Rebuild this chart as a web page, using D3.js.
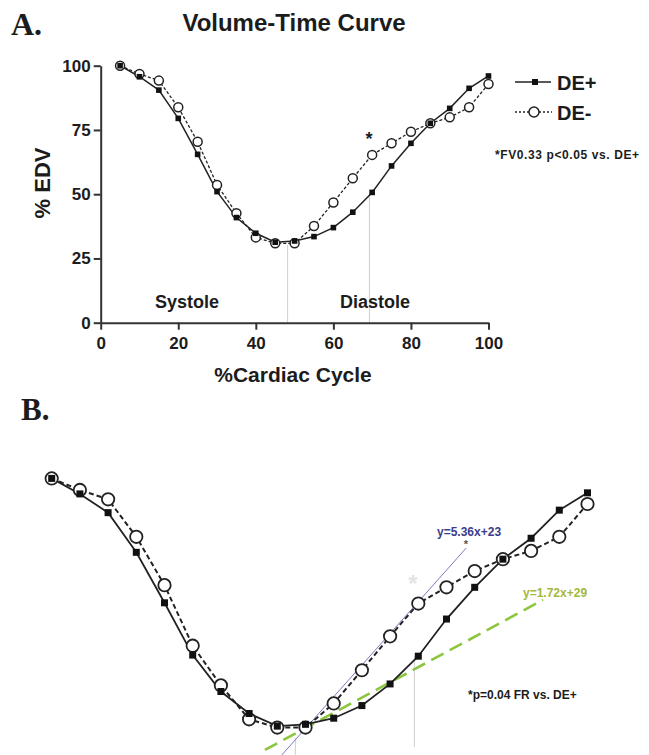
<!DOCTYPE html>
<html>
<head>
<meta charset="utf-8">
<script src="https://cdn.jsdelivr.net/npm/d3@7"></script>
<style>
  body { margin: 0; background: #fff; }
  svg text { font-family: "Liberation Sans", Arial, sans-serif; font-weight: bold; fill: #1c1c1c; }
  .axis path, .axis line { stroke: #333; stroke-width: 2; }
  .axis text { font-size: 17px; }
  .phase { stroke: #cfcfcf; stroke-width: 1; }
</style>
</head>
<body>
<script>
// % cardiac cycle (x) and % EDV for both groups
var cycle = [5, 10, 15, 20, 25, 30, 35, 40, 45, 50, 55, 60, 65, 70, 75, 80, 85, 90, 95, 100];
var dePlus = [100, 95.7, 90.5, 79.5, 65.5, 51.0, 40.9, 34.8, 31.3, 31.8, 33.5, 37.0, 43.0, 50.7, 61.0, 69.8, 77.6, 83.4, 91.2, 96.0];
var deMinus = [100, 96.8, 94.2, 83.8, 70.4, 53.6, 42.6, 33.2, 30.9, 30.9, 37.6, 46.8, 56.2, 65.3, 69.8, 74.3, 77.6, 79.9, 83.8, 92.9];

var xTicks = [0, 20, 40, 60, 80, 100];
var yTicks = [0, 25, 50, 75, 100];

// end-systole / diastolic point markers (x in % cycle)
var phaseMarks = [48.2, 69.3];

// fitted slopes drawn in panel B, endpoints in data units
var fitBlue = [[45.8, 23.3], [78.5, 80.7]];
var fitGreen = [[42.8, 24.7], [92.1, 66.3]];

var w = 649, h = 755;
var svg = d3.select("body").append("svg")
    .attr("width", w)
    .attr("height", h);

// ---------------- Panel A ----------------
var xA = d3.scaleLinear().domain([0, 100]).range([100.7, 488.5]);
var yA = d3.scaleLinear().domain([0, 100]).range([322.7, 65.7]);

svg.append("text")
    .attr("x", 11).attr("y", 35)
    .style("font-family", "'Liberation Serif', 'Times New Roman', serif")
    .style("font-size", "32px")
    .text("A.");

svg.append("text")
    .attr("x", 294).attr("y", 31)
    .attr("text-anchor", "middle")
    .style("font-size", "24px")
    .text("Volume-Time Curve");

// grey phase lines
svg.append("line").attr("class", "phase")
    .attr("x1", xA(phaseMarks[0])).attr("x2", xA(phaseMarks[0]))
    .attr("y1", yA(0)).attr("y2", yA(30.2));
svg.append("line").attr("class", "phase")
    .attr("x1", xA(phaseMarks[1])).attr("x2", xA(phaseMarks[1]))
    .attr("y1", yA(0)).attr("y2", yA(dePlus[13]));

svg.append("g")
    .attr("class", "axis")
    .attr("transform", "translate(" + xA(0) + ",0)")
    .call(d3.axisLeft(yA).tickValues(yTicks).tickSize(7).tickSizeOuter(0));

svg.append("g")
    .attr("class", "axis")
    .attr("transform", "translate(0," + yA(0) + ")")
    .call(d3.axisBottom(xA).tickValues(xTicks).tickSize(7).tickSizeOuter(0).tickPadding(7));

svg.append("text")
    .attr("transform", "translate(50,183) rotate(-90)")
    .attr("text-anchor", "middle")
    .style("font-size", "22px")
    .text("% EDV");

svg.append("text")
    .attr("x", 293).attr("y", 382)
    .attr("text-anchor", "middle")
    .style("font-size", "21px")
    .text("%Cardiac Cycle");

svg.append("text")
    .attr("x", 187).attr("y", 308)
    .attr("text-anchor", "middle")
    .style("font-size", "18px")
    .text("Systole");

svg.append("text")
    .attr("x", 375).attr("y", 308)
    .attr("text-anchor", "middle")
    .style("font-size", "18px")
    .text("Diastole");

var lineA = function(vals) {
    return d3.line()
        .x(function(d, i) { return xA(cycle[i]); })
        .y(function(d) { return yA(d); })(vals);
};

svg.append("path")
    .attr("d", lineA(deMinus))
    .attr("fill", "none").attr("stroke", "#222")
    .attr("stroke-width", 1.3).attr("stroke-dasharray", "3,2");
svg.append("path")
    .attr("d", lineA(dePlus))
    .attr("fill", "none").attr("stroke", "#222")
    .attr("stroke-width", 1.5);

svg.selectAll(".circA").data(deMinus).enter().append("circle")
    .attr("cx", function(d, i) { return xA(cycle[i]); })
    .attr("cy", function(d) { return yA(d); })
    .attr("r", 4.5)
    .attr("fill", "#fff").attr("stroke", "#222").attr("stroke-width", 1.5);
svg.selectAll(".sqA").data(dePlus).enter().append("rect")
    .attr("x", function(d, i) { return xA(cycle[i]) - 2.8; })
    .attr("y", function(d) { return yA(d) - 2.8; })
    .attr("width", 5.6).attr("height", 5.6)
    .attr("fill", "#111");

svg.append("text")
    .attr("x", 369).attr("y", 145)
    .attr("text-anchor", "middle")
    .style("font-size", "18px")
    .text("*");

// legend
svg.append("line").attr("x1", 515).attr("x2", 551).attr("y1", 82).attr("y2", 82)
    .attr("stroke", "#222").attr("stroke-width", 1.5);
svg.append("rect").attr("x", 532).attr("y", 79).attr("width", 6).attr("height", 6).attr("fill", "#111");
svg.append("text").attr("x", 557).attr("y", 90).style("font-size", "20px").text("DE+");

svg.append("line").attr("x1", 515).attr("x2", 552).attr("y1", 112).attr("y2", 112)
    .attr("stroke", "#222").attr("stroke-width", 1.3).attr("stroke-dasharray", "2,2");
svg.append("circle").attr("cx", 534).attr("cy", 112).attr("r", 5)
    .attr("fill", "#fff").attr("stroke", "#222").attr("stroke-width", 1.5);
svg.append("text").attr("x", 557).attr("y", 120).style("font-size", "20px").text("DE-");

svg.append("text")
    .attr("x", 495).attr("y", 159)
    .style("font-size", "12px")
    .style("letter-spacing", "0.6px")
    .text("*FV0.33 p<0.05 vs. DE+");

// ---------------- Panel B ----------------
var xB = d3.scaleLinear().domain([0, 100]).range([23.5, 587.5]);
var yB = d3.scaleLinear().domain([0, 100]).range([839, 478.4]);

svg.append("text")
    .attr("x", 21).attr("y", 420)
    .style("font-family", "'Liberation Serif', 'Times New Roman', serif")
    .style("font-size", "31px")
    .text("B.");

svg.append("line").attr("class", "phase")
    .attr("x1", xB(phaseMarks[0])).attr("x2", xB(phaseMarks[0]))
    .attr("y1", yB(28)).attr("y2", h);
svg.append("line").attr("class", "phase")
    .attr("x1", xB(phaseMarks[1])).attr("x2", xB(phaseMarks[1]))
    .attr("y1", yB(dePlus[13])).attr("y2", yB(25.5));

var fitLine = d3.line()
    .x(function(d) { return xB(d[0]); })
    .y(function(d) { return yB(d[1]); });

svg.append("path")
    .attr("d", fitLine(fitGreen))
    .attr("fill", "none").attr("stroke", "#8cc63f")
    .attr("stroke-width", 2.6).attr("stroke-dasharray", "14,7");
svg.append("path")
    .attr("d", fitLine(fitBlue))
    .attr("fill", "none").attr("stroke", "#7a7ac0")
    .attr("stroke-width", 1);

var lineB = function(vals) {
    return d3.line()
        .x(function(d, i) { return xB(cycle[i]); })
        .y(function(d) { return yB(d); })(vals);
};

svg.append("path")
    .attr("d", lineB(deMinus))
    .attr("fill", "none").attr("stroke", "#222")
    .attr("stroke-width", 2).attr("stroke-dasharray", "5,3");
svg.append("path")
    .attr("d", lineB(dePlus))
    .attr("fill", "none").attr("stroke", "#222")
    .attr("stroke-width", 1.8);

svg.selectAll(".circB").data(deMinus).enter().append("circle")
    .attr("cx", function(d, i) { return xB(cycle[i]); })
    .attr("cy", function(d) { return yB(d); })
    .attr("r", 6.2)
    .attr("fill", "#fff").attr("stroke", "#222").attr("stroke-width", 1.8);
svg.selectAll(".sqB").data(dePlus).enter().append("rect")
    .attr("x", function(d, i) { return xB(cycle[i]) - 3.5; })
    .attr("y", function(d) { return yB(d) - 3.5; })
    .attr("width", 7).attr("height", 7)
    .attr("fill", "#111");

svg.append("text")
    .attr("x", 437).attr("y", 536)
    .style("font-size", "12px")
    .style("fill", "#3c3c8c")
    .text("y=5.36x+23");
svg.append("text")
    .attr("x", 466).attr("y", 548)
    .attr("text-anchor", "middle")
    .style("font-size", "11px")
    .style("fill", "#555")
    .text("*");
svg.append("text")
    .attr("x", 413).attr("y", 592)
    .attr("text-anchor", "middle")
    .style("font-size", "24px")
    .style("fill", "#e4e4e4")
    .text("*");

svg.append("text")
    .attr("x", 523).attr("y", 597)
    .style("font-size", "12px")
    .style("fill", "#a3b83c")
    .text("y=1.72x+29");

svg.append("text")
    .attr("x", 468).attr("y", 699)
    .style("font-size", "12px")
    .text("*p=0.04 FR vs. DE+");
</script>
</body>
</html>
